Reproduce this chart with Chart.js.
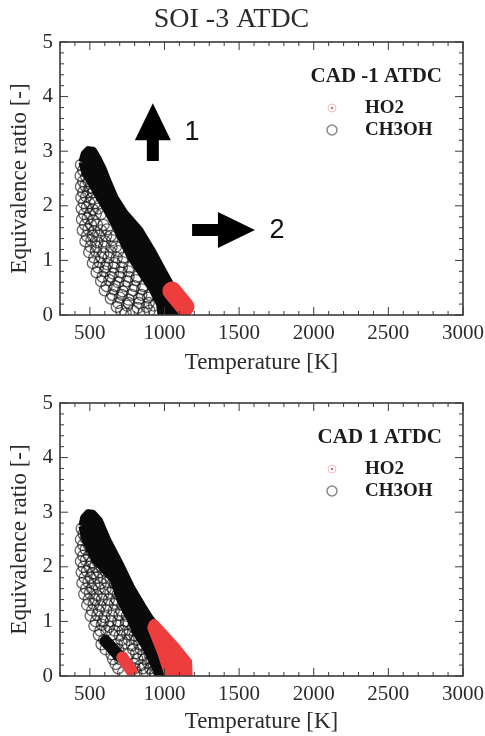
<!DOCTYPE html>
<html>
<head>
<meta charset="utf-8">
<script src="https://cdn.jsdelivr.net/npm/chart.js@4.4.1/dist/chart.umd.min.js"></script>
<style>
  body { margin: 0; background: #fff; overflow: hidden; }
  .panel { position: absolute; left: 0; width: 485px; height: 380px; }
</style>
</head>
<body>
<div class="panel" style="top:0"><canvas id="topChart"></canvas></div>
<div class="panel" style="top:356px"><canvas id="bottomChart"></canvas></div>
<script>
// axis ticks + legend text
const xTicks = [500, 1000, 1500, 2000, 2500, 3000];
const yTicks = [0, 1, 2, 3, 4, 5];
const legendLabels = ['HO2', 'CH3OH'];

// top panel: SOI -3 ATDC, CAD -1 ATDC  ([temperature, equivalence ratio])
const topHo2 = [[1050, 0.44], [1137, 0.15]];
const topCh3ohDense = [
  [450, 2.8], [465, 2.95], [490, 3.02], [520, 3.01], [555, 2.85], [590, 2.65], [615, 2.47],
  [665, 2.15], [730, 1.87], [830, 1.56], [910, 1.2], [985, 0.82], [1060, 0.45], [1130, 0.08], [1150, -0.2],
  [990, -0.2], [970, 0.2], [915, 0.5], [840, 0.8], [775, 1.06], [720, 1.37], [670, 1.65], [610, 1.95],
  [545, 2.25], [505, 2.45], [470, 2.6]
];
const topCh3ohSparse = [
  [440, 2.75], [470, 2.77], [455, 2.65], [488, 2.65],
  [438, 2.55], [475, 2.53], [455, 2.45], [490, 2.45],
  [440, 2.35], [470, 2.37], [500, 2.33], [455, 2.25], [488, 2.25], [520, 2.25],
  [442, 2.15], [475, 2.17], [510, 2.13], [460, 2.05], [497, 2.05], [535, 2.05],
  [445, 1.95], [480, 1.97], [520, 1.93], [555, 1.95], [462, 1.85], [500, 1.85], [540, 1.85], [575, 1.85],
  [447, 1.75], [485, 1.77], [525, 1.73], [468, 1.65], [508, 1.65], [548, 1.65], [592, 1.65],
  [452, 1.55], [490, 1.57], [530, 1.53], [575, 1.55], [615, 1.57],
  [480, 1.45], [520, 1.45], [562, 1.45], [610, 1.45], [640, 1.45],
  [470, 1.35], [510, 1.37], [550, 1.33], [600, 1.35], [650, 1.37],
  [505, 1.25], [545, 1.25], [595, 1.25], [645, 1.25], [675, 1.25],
  [495, 1.15], [540, 1.17], [590, 1.13], [640, 1.15], [690, 1.17],
  [530, 1.05], [575, 1.05], [625, 1.05], [680, 1.05], [725, 1.05],
  [520, 0.95], [565, 0.97], [615, 0.93], [665, 0.95], [720, 0.97],
  [555, 0.87], [605, 0.87], [660, 0.87], [715, 0.87], [765, 0.87],
  [545, 0.78], [600, 0.8], [655, 0.76], [710, 0.78], [760, 0.8],
  [585, 0.7], [640, 0.7], [700, 0.7], [760, 0.7], [815, 0.7],
  [575, 0.62], [630, 0.64], [690, 0.6], [750, 0.62], [810, 0.64],
  [612, 0.53], [670, 0.53], [735, 0.53], [800, 0.53], [860, 0.53],
  [600, 0.45], [660, 0.47], [720, 0.43], [790, 0.45], [850, 0.47],
  [650, 0.37], [715, 0.37], [780, 0.37], [845, 0.37], [900, 0.37],
  [640, 0.3], [700, 0.32], [760, 0.28], [830, 0.3], [890, 0.32],
  [690, 0.22], [760, 0.22], [830, 0.22], [895, 0.22],
  [680, 0.15], [750, 0.17], [820, 0.13], [880, 0.15], [930, 0.17],
  [710, 0.08], [790, 0.08], [900, 0.08], [740, 0.03], [860, 0.04]
];

// bottom panel: CAD 1 ATDC
const botHo2Big = [
  [890, 0.88], [905, 0.99], [925, 1.03], [950, 1.0], [1083, 0.6], [1178, 0.28], [1185, -0.2], [1030, -0.2], [960, 0.4]
];
const botHo2Small = [[718, 0.34], [778, 0.1]];
const botCh3ohStreak = [[605, 0.64], [700, 0.36]];
const botCh3ohDense = [
  [450, 2.75], [462, 2.9], [488, 2.98], [520, 2.97], [560, 2.85], [615, 2.5], [700, 2.05], [780, 1.6],
  [850, 1.28], [896, 1.08], [1000, 0.7], [1100, 0.3], [1170, -0.2],
  [965, -0.2], [950, 0.1], [880, 0.5], [810, 0.8], [775, 1.03], [705, 1.39], [660, 1.76], [540, 2.12], [470, 2.5]
];
const botCh3ohSparse = [
  [445, 2.7], [475, 2.72], [458, 2.6], [492, 2.6],
  [440, 2.5], [472, 2.52], [508, 2.48], [455, 2.4], [492, 2.4], [530, 2.4],
  [438, 2.3], [472, 2.32], [512, 2.28], [548, 2.3], [455, 2.2], [494, 2.2], [532, 2.2], [575, 2.2],
  [440, 2.1], [474, 2.12], [512, 2.08], [552, 2.1], [598, 2.12],
  [458, 2.0], [496, 2.0], [535, 2.0], [578, 2.0], [625, 2.0],
  [445, 1.9], [480, 1.92], [520, 1.88], [562, 1.9], [606, 1.92], [650, 1.9],
  [465, 1.8], [505, 1.8], [548, 1.8], [592, 1.8], [640, 1.8], [690, 1.8],
  [450, 1.7], [490, 1.72], [530, 1.68], [572, 1.7], [618, 1.72], [666, 1.7],
  [475, 1.6], [515, 1.6], [560, 1.6], [605, 1.6], [655, 1.6], [705, 1.6],
  [462, 1.5], [500, 1.52], [545, 1.48], [590, 1.5], [638, 1.52], [686, 1.5],
  [492, 1.4], [535, 1.4], [580, 1.4], [628, 1.4], [678, 1.4], [728, 1.4],
  [482, 1.3], [525, 1.32], [570, 1.28], [618, 1.3], [668, 1.32], [718, 1.3], [768, 1.28],
  [515, 1.2], [560, 1.2], [610, 1.2], [660, 1.2], [710, 1.2], [760, 1.2], [800, 1.2],
  [505, 1.1], [550, 1.12], [598, 1.08], [648, 1.1], [698, 1.12], [748, 1.1], [798, 1.08],
  [540, 1.0], [588, 1.0], [640, 1.0], [690, 1.0], [742, 1.0], [792, 1.0], [835, 1.0],
  [530, 0.92], [580, 0.94], [630, 0.9], [690, 0.92], [740, 0.94], [790, 0.9], [830, 0.92],
  [570, 0.83], [610, 0.83], [665, 0.83], [718, 0.83], [768, 0.83], [818, 0.83], [855, 0.83],
  [560, 0.75], [650, 0.76], [700, 0.74], [750, 0.76], [800, 0.74], [850, 0.76],
  [595, 0.66], [712, 0.66], [760, 0.66], [810, 0.66], [860, 0.66],
  [578, 0.58], [682, 0.58], [732, 0.6], [782, 0.56], [832, 0.58],
  [605, 0.49], [690, 0.49], [790, 0.49], [840, 0.49], [885, 0.49],
  [645, 0.4], [760, 0.4], [810, 0.42], [860, 0.38], [900, 0.4],
  [655, 0.31], [700, 0.31], [818, 0.31], [868, 0.31], [912, 0.31],
  [672, 0.22], [795, 0.22], [842, 0.2], [890, 0.24], [930, 0.2],
  [690, 0.14], [800, 0.14], [855, 0.14], [905, 0.14], [945, 0.14],
  [722, 0.06], [812, 0.06], [870, 0.05], [920, 0.07]
];

// arrows drawn on the top panel
const arrowFrom = [[922, 2.82], [1185, 1.557]];
const arrowTo = [[922, 3.88], [1606, 1.557]];
const arrowText = ['1', '2'];
const arrowTextAt = [[1184, 3.35], [1754, 1.54]];

const RED = '#ee3d3d';
const INK = '#2b2b2b';
const SERIF = '"Liberation Serif", "Times New Roman", serif';

const toXY = arr => arr.map(p => ({ x: p[0], y: p[1] }));
const closed = arr => toXY(arr.concat([arr[0]]));

function bandSet(label, pts, color, width) {
  return {
    label: label, data: toXY(pts), showLine: true, borderColor: color, borderWidth: width,
    borderCapStyle: 'round', pointRadius: 0, clip: 0
  };
}
function areaSet(label, pts, color, width) {
  return {
    label: label, data: closed(pts), showLine: true, fill: 'shape', backgroundColor: color,
    borderColor: color, borderWidth: width, borderJoinStyle: 'round', pointRadius: 0, clip: 0
  };
}
function ringSet(label, pts) {
  return {
    label: label, data: toXY(pts), pointRadius: 5.5, borderWidth: 1.3,
    borderColor: 'rgba(20,20,20,0.65)', backgroundColor: 'rgba(0,0,0,0)', clip: 0
  };
}

// box around the plot with inward ticks
const boxFrame = {
  id: 'boxFrame',
  afterDatasetsDraw(chart) {
    const { ctx, chartArea: a, scales: { x, y } } = chart;
    ctx.save();
    ctx.strokeStyle = '#3a3a3a';
    ctx.lineWidth = 1;
    ctx.beginPath();
    for (let v = 300; v <= 3000; v += 100) {
      const px = x.getPixelForValue(v);
      const len = v % 500 === 0 ? 8 : 4;
      ctx.moveTo(px, a.bottom); ctx.lineTo(px, a.bottom - len);
      ctx.moveTo(px, a.top); ctx.lineTo(px, a.top + len);
    }
    for (let i = 0; i <= 25; i++) {
      const py = y.getPixelForValue(i * 0.2);
      const len = i % 5 === 0 ? 8 : 4;
      ctx.moveTo(a.left, py); ctx.lineTo(a.left + len, py);
      ctx.moveTo(a.right, py); ctx.lineTo(a.right - len, py);
    }
    ctx.stroke();
    ctx.lineWidth = 1.6;
    ctx.strokeRect(a.left, a.top, a.width, a.height);
    ctx.restore();
  }
};

const boxLegend = {
  id: 'boxLegend',
  afterDraw(chart, args, opts) {
    const { ctx, chartArea: a } = chart;
    ctx.save();
    ctx.fillStyle = '#1c1c1c';
    ctx.textBaseline = 'middle';
    ctx.textAlign = 'right';
    ctx.font = 'bold 21px ' + SERIF;
    ctx.fillText(opts.title, a.right - 21, a.top + 35);
    ctx.textAlign = 'left';
    ctx.font = 'bold 19px ' + SERIF;
    opts.labels.forEach((lab, i) => {
      const cy = a.top + 66 + i * 22;
      const mx = a.right - 131;
      ctx.fillText(lab, a.right - 98, cy);
      ctx.beginPath();
      if (i === 0) {
        ctx.strokeStyle = 'rgba(225,100,120,0.45)';
        ctx.lineWidth = 1;
        ctx.arc(mx, cy, 4, 0, Math.PI * 2);
        ctx.stroke();
        ctx.beginPath();
        ctx.fillStyle = 'rgba(200,60,80,0.8)';
        ctx.arc(mx, cy, 1.2, 0, Math.PI * 2);
        ctx.fill();
        ctx.fillStyle = '#1c1c1c';
      } else {
        ctx.strokeStyle = '#888';
        ctx.lineWidth = 1.5;
        ctx.arc(mx, cy, 5, 0, Math.PI * 2);
        ctx.stroke();
      }
    });
    ctx.restore();
  }
};

const arrowMarks = {
  id: 'arrowMarks',
  afterDraw(chart, args, opts) {
    const { ctx, scales: { x, y } } = chart;
    ctx.save();
    ctx.fillStyle = '#000';
    opts.from.forEach((f, i) => {
      const x0 = x.getPixelForValue(f[0]), y0 = y.getPixelForValue(f[1]);
      const x1 = x.getPixelForValue(opts.to[i][0]), y1 = y.getPixelForValue(opts.to[i][1]);
      const len = Math.hypot(x1 - x0, y1 - y0);
      const head = 37, sw = 6, hw = 18;
      ctx.save();
      ctx.translate(x0, y0);
      ctx.rotate(Math.atan2(y1 - y0, x1 - x0));
      ctx.beginPath();
      ctx.moveTo(0, -sw); ctx.lineTo(len - head, -sw); ctx.lineTo(len - head, -hw);
      ctx.lineTo(len, 0); ctx.lineTo(len - head, hw); ctx.lineTo(len - head, sw); ctx.lineTo(0, sw);
      ctx.closePath();
      ctx.fill();
      ctx.restore();
    });
    ctx.fillStyle = '#111';
    ctx.font = '27px "Liberation Sans", Arial, sans-serif';
    ctx.textAlign = 'center';
    ctx.textBaseline = 'middle';
    opts.text.forEach((t, i) => {
      ctx.fillText(t, x.getPixelForValue(opts.textAt[i][0]), y.getPixelForValue(opts.textAt[i][1]));
    });
    ctx.restore();
  }
};

function makeChart(id, cfg) {
  return new Chart(document.getElementById(id), {
    type: 'scatter',
    data: { datasets: cfg.datasets },
    options: {
      responsive: true,
      maintainAspectRatio: false,
      animation: false,
      events: [],
      layout: { autoPadding: false, padding: { left: 0, right: 22, top: cfg.padTop, bottom: 0 } },
      plugins: {
        legend: { display: false },
        tooltip: { enabled: false },
        title: {
          display: !!cfg.title, text: cfg.title || '', color: INK,
          font: { family: SERIF, size: 28, weight: 'normal', lineHeight: 1.2 },
          padding: { top: 3, bottom: 5.4 }
        },
        boxLegend: { title: cfg.legendTitle, labels: legendLabels },
        arrowMarks: cfg.arrows || false
      },
      scales: {
        x: {
          type: 'linear', min: 300, max: 3000,
          afterBuildTicks: s => { s.ticks = xTicks.map(v => ({ value: v })); },
          // keep the plot box at a fixed size; the last label may hang past it
          afterFit: s => { s.height = cfg.xHeight; s.paddingLeft = 0; s.paddingRight = 0; },
          grid: { display: false, drawTicks: false },
          border: { display: false },
          ticks: {
            padding: 6, color: INK, maxRotation: 0, autoSkip: false,
            font: { family: SERIF, size: 21 }, callback: v => String(v)
          },
          title: {
            display: true, text: 'Temperature [K]', color: INK,
            font: { family: SERIF, size: 23, lineHeight: 1 }, padding: { top: 0, bottom: cfg.xTitlePad }
          }
        },
        y: {
          type: 'linear', min: 0, max: 5,
          afterBuildTicks: s => { s.ticks = yTicks.map(v => ({ value: v })); },
          afterFit: s => { s.width = 60; s.paddingTop = 0; s.paddingBottom = 0; },
          grid: { display: false, drawTicks: false },
          border: { display: false },
          ticks: { padding: 7, color: INK, font: { family: SERIF, size: 21 }, callback: v => String(v) },
          title: {
            display: true, text: 'Equivalence ratio [-]', color: INK,
            font: { family: SERIF, size: 23, lineHeight: 1 }, padding: { top: 8.5, bottom: 0 }
          }
        }
      }
    },
    plugins: [boxFrame, boxLegend, arrowMarks]
  });
}

makeChart('topChart', {
  title: 'SOI -3 ATDC',
  legendTitle: 'CAD -1 ATDC',
  padTop: 0, xHeight: 65, xTitlePad: 5.5,
  arrows: { from: arrowFrom, to: arrowTo, text: arrowText, textAt: arrowTextAt },
  datasets: [
    bandSet('HO2', topHo2, RED, 19),
    areaSet('CH3OH', topCh3ohDense, '#0a0a0a', 8),
    ringSet('CH3OH', topCh3ohSparse)
  ]
});

makeChart('bottomChart', {
  title: null,
  legendTitle: 'CAD 1 ATDC',
  padTop: 47, xHeight: 60, xTitlePad: 2.5,
  datasets: [
    areaSet('HO2', botHo2Big, RED, 2),
    bandSet('HO2', botHo2Small, RED, 12),
    bandSet('CH3OH', botCh3ohStreak, '#0a0a0a', 12),
    areaSet('CH3OH', botCh3ohDense, '#0a0a0a', 8),
    ringSet('CH3OH', botCh3ohSparse)
  ]
});
</script>
</body>
</html>
